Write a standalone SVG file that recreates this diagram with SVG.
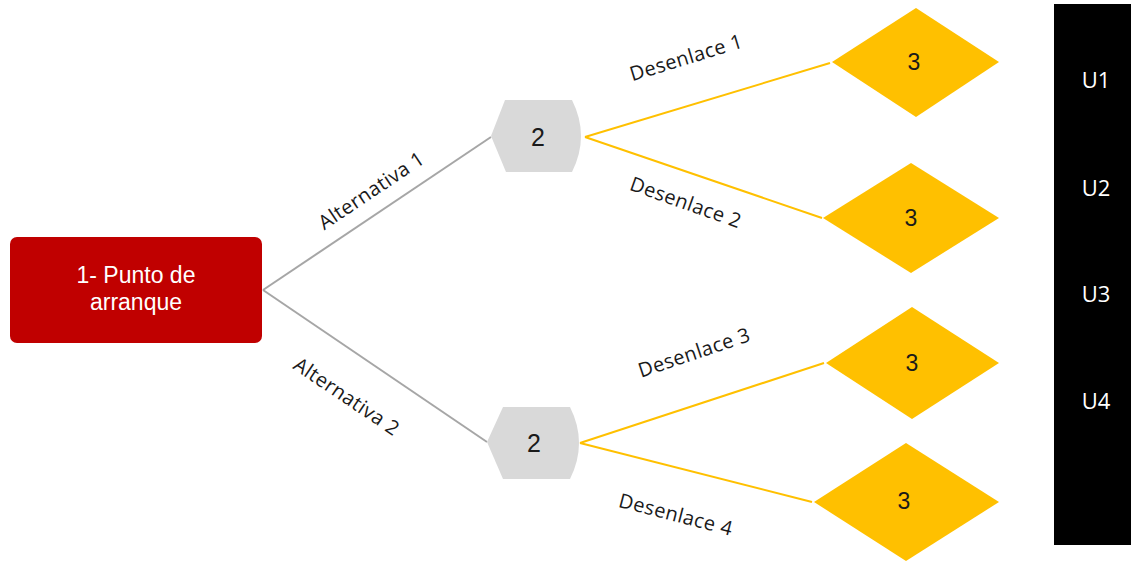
<svg xmlns="http://www.w3.org/2000/svg" width="1131" height="563" viewBox="0 0 1131 563">
<style>
.gline{stroke:#A6A6A6;stroke-width:2;fill:none}
.yline{stroke:#FFC000;stroke-width:2;fill:none}
.lbl{font-family:"Open Sans","DejaVu Sans",sans-serif;font-size:20px;letter-spacing:0.4px;fill:#1a1a1a;text-anchor:middle;dominant-baseline:central}
.hex{fill:#D9D9D9}
.dia{fill:#FFC000}
.num{font-family:"Liberation Sans",Arial,sans-serif;fill:#1a1a1a;text-anchor:middle;dominant-baseline:central}
.u{font-family:"Open Sans","DejaVu Sans",sans-serif;font-size:22px;fill:#fff;text-anchor:middle;dominant-baseline:central}
</style>
<rect width="1131" height="563" fill="#fff"/>
<g id="connectors">
<line class="gline" x1="263" y1="290" x2="491" y2="137"/>
<line class="gline" x1="263" y1="290" x2="487" y2="442"/>
<line class="yline" x1="585" y1="137" x2="830" y2="63"/>
<line class="yline" x1="585" y1="137" x2="822" y2="218"/>
<line class="yline" x1="580" y1="443" x2="824" y2="363"/>
<line class="yline" x1="580" y1="443" x2="812" y2="502"/>
<text class="lbl" transform="rotate(-33.8 371 190)" x="371" y="190">Alternativa 1</text>
<text class="lbl" transform="rotate(34 347 396)" x="347" y="396">Alternativa 2</text>
<text class="lbl" transform="rotate(-17 686 57)" x="686" y="57">Desenlace 1</text>
<text class="lbl" transform="rotate(19.5 686 202)" x="686" y="202">Desenlace 2</text>
<text class="lbl" transform="rotate(-18.5 694 352)" x="694" y="352">Desenlace 3</text>
<text class="lbl" transform="rotate(14.5 676 514)" x="676" y="514">Desenlace 4</text>
</g>
<g id="start">
<rect x="10" y="237" width="252" height="106" rx="7" fill="#C00000"/>
<text font-family="Liberation Sans,Arial,sans-serif" font-size="23" fill="#fff" text-anchor="middle"><tspan x="136" y="283">1- Punto de</tspan><tspan x="136" y="310">arranque</tspan></text>
</g>
<g id="alt1">
<path class="hex" d="M491,136 L505,100 L572,100 Q590,136 572,172 L506,172 Z"/>
<text class="num" x="538" y="137" font-size="25">2</text>
</g>
<g id="alt2">
<path class="hex" d="M487,442 L503,407 L570,407 Q588,443 570,479 L503,479 Z"/>
<text class="num" x="534" y="443" font-size="25">2</text>
</g>
<g id="out1">
<polygon class="dia" points="832,62 916,8 999,62 916,117"/>
<text class="num" x="914" y="62" font-size="23">3</text>
</g>
<g id="out2">
<polygon class="dia" points="823,218 911,163 999,218 911,273"/>
<text class="num" x="911" y="218" font-size="23">3</text>
</g>
<g id="out3">
<polygon class="dia" points="826,363 912,307 999,363 912,419"/>
<text class="num" x="912" y="363" font-size="23">3</text>
</g>
<g id="out4">
<polygon class="dia" points="814,502 906,443 999,502 906,561"/>
<text class="num" x="904" y="501" font-size="23">3</text>
</g>
<g id="sidebar">
<rect x="1054" y="4" width="77" height="541" fill="#000"/>
<text class="u" x="1096" y="79">U1</text>
<text class="u" x="1096" y="187">U2</text>
<text class="u" x="1096" y="293">U3</text>
<text class="u" x="1096" y="400">U4</text>
</g>
</svg>
